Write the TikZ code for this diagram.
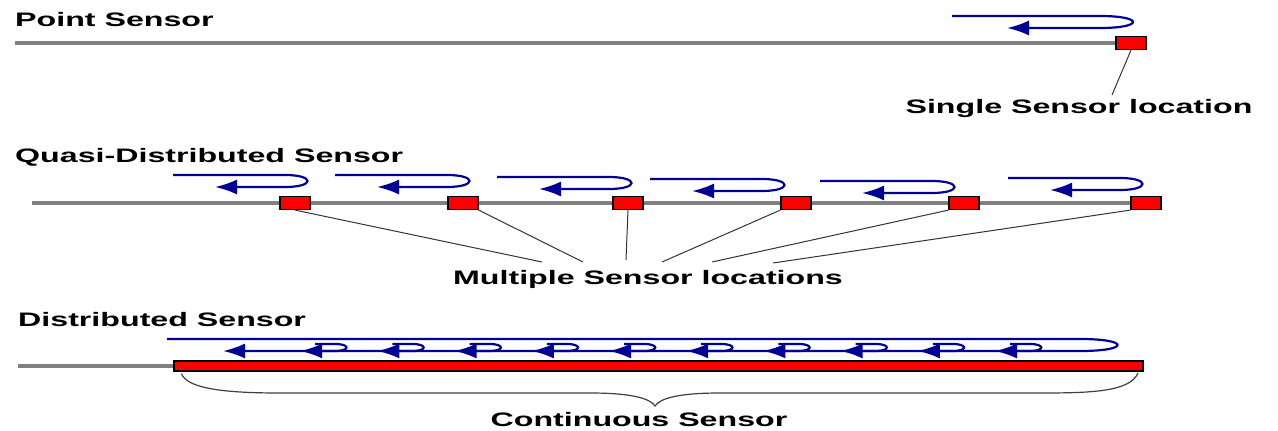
\documentclass[tikz,border=0pt]{standalone}
\usepackage{fontspec}
\newfontfamily\lblfont[FakeStretch=1.65]{Liberation Sans}
\usetikzlibrary{arrows.meta, positioning}

\definecolor{fibregray}{RGB}{128,128,128}
\definecolor{pulseblue}{RGB}{0,0,150}
\definecolor{sensred}{RGB}{255,0,0}

\tikzset{
    fibre/.style={draw=fibregray, line width=3.5pt},
    sensor/.style={draw=black, fill=sensred, line width=1.2pt, inner sep=0pt,
        minimum width=30pt, minimum height=13pt},
    pulse/.style={draw=pulseblue, line width=2.2pt, -{Latex[length=22pt,width=15pt]}},
    leader/.style={draw=black!80, line width=1pt},
    lbl/.style={font=\lblfont\bfseries\fontsize{19.5}{23}\selectfont, inner sep=0pt},
}

\begin{document}
\begin{tikzpicture}[x=1pt, y=-1pt]
    \useasboundingbox (0,0) rectangle (1278,431);

    % point sensor
    \node[lbl, anchor=base west] (point-lbl) at (15,27) {Point Sensor};
    \node[sensor] (pt) at (1131,43) {};
    \coordinate (pt-start) at (15,43);
    \draw[fibre] (pt-start) -- (pt.west);
    \draw[pulse] (952,16) -- (1100,16) .. controls (1144,16) and (1144,28) .. (1100,28) -- (1007,28);
    \node[lbl, anchor=base] (single-lbl) at (1079,113) {Single Sensor location};
    \coordinate (single-end) at (1112,95);
    \draw[leader] (pt.south) -- (single-end);

    % quasi-distributed sensor
    \node[lbl, anchor=base west] (quasi-lbl) at (15,162) {Quasi-Distributed Sensor};
    \coordinate (q-start) at (32,203);
    \coordinate (q-end) at (1146,203);
    \draw[fibre] (q-start) -- (q-end);
    \foreach \n/\qx in {1/295, 2/463, 3/628, 4/796, 5/964, 6/1146}
        \node[sensor] (q\n) at (\qx,203) {};
    \foreach \sx/\sy in {173/175, 335/175, 497/177, 650/179, 820/181, 1008/178}
        \draw[pulse] (\sx,\sy) -- (\sx+112,\sy) .. controls (\sx+142,\sy) and (\sx+142,\sy+12) .. (\sx+112,\sy+12) -- (\sx+42,\sy+12);
    \node[lbl, anchor=base] (multi-lbl) at (648,284) {Multiple Sensor locations};
    \coordinate (m1) at (542,262);
    \coordinate (m2) at (583,262);
    \coordinate (m3) at (626,260);
    \coordinate (m4) at (662,262);
    \coordinate (m5) at (712,262);
    \coordinate (m6) at (773,263);
    \draw[leader] (q1.south) -- (m1);
    \draw[leader] (q2.south east) -- (m2);
    \draw[leader] (q3.south) -- (m3);
    \draw[leader] (q4.south west) -- (m4);
    \draw[leader] (q5.south west) -- (m5);
    \draw[leader] (q6.south west) -- (m6);

    % distributed sensor
    \node[lbl, anchor=base west] (dist-lbl) at (18,326) {Distributed Sensor};
    \node[sensor, minimum width=969pt, minimum height=10pt] (cont) at (658.5,366) {};
    \coordinate (d-start) at (18,366);
    \draw[fibre] (d-start) -- (cont.west);
    \draw[pulse] (167,339) -- (1080,339) .. controls (1130,339) and (1130,351) .. (1080,351) -- (223,351);
    \foreach \i in {1,...,10}
        \draw[pulse] ({223+77.2*\i+15},344) -- ({223+77.2*\i+35},344)
            .. controls ({223+77.2*\i+50},344) and ({223+77.2*\i+50},351) .. ({223+77.2*\i+35},351)
            -- ({223+77.2*\i},351);
    \draw[draw=black!75, line width=1.2pt] (cont.south west) ++(8,2)
        .. controls ++(6,16) and (230,393) .. (280,393) -- (590,393)
        .. controls (630,393) and (650,398) .. (655,406)
        .. controls (660,398) and (680,393) .. (720,393) -- (1040,393)
        .. controls (1090,393) and (1130,392) .. (1138,373);
    \node[lbl, anchor=base] (cont-lbl) at (639,426) {Continuous Sensor};
\end{tikzpicture}
\end{document}
